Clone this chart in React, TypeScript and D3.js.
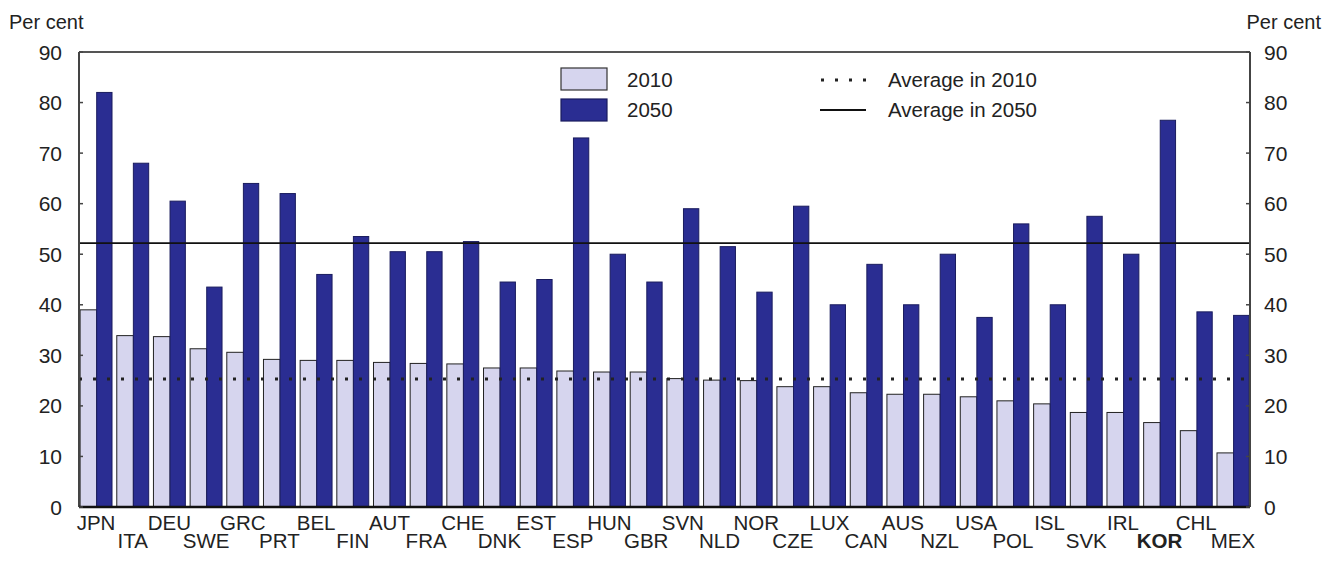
import React from "react";
import * as d3 from "d3";

const countries = ["JPN","ITA","DEU","SWE","GRC","PRT","BEL","FIN","AUT","FRA","CHE","DNK","EST","ESP","HUN","GBR","SVN","NLD","NOR","CZE","LUX","CAN","AUS","NZL","USA","POL","ISL","SVK","IRL","KOR","CHL","MEX"];
const values2010 = [39.0,33.9,33.7,31.3,30.6,29.2,29.0,29.0,28.6,28.4,28.3,27.5,27.5,26.9,26.7,26.7,25.4,25.1,25.0,23.8,23.8,22.6,22.3,22.3,21.8,21.0,20.4,18.7,18.7,16.7,15.1,10.7];
const values2050 = [82.0,68.0,60.5,43.5,64.0,62.0,46.0,53.5,50.5,50.5,52.5,44.5,45.0,73.0,50.0,44.5,59.0,51.5,42.5,59.5,40.0,48.0,40.0,50.0,37.5,56.0,40.0,57.5,50.0,76.5,38.6,37.9];
const avg2010 = 25.3;
const avg2050 = 52.2;
const yTicks = [0,10,20,30,40,50,60,70,80,90];

const W = 1330, H = 563;
const left = 79, right = 1250, top = 52, bottom = 507;
const FONT = "Arial, 'Liberation Sans', sans-serif";
const LIGHT = "#d6d5ee";
const DARK = "#2a2d92";
const FS = 20.5;

export default function App() {
  const x = d3.scaleBand<string>().domain(countries).range([left, right]).paddingInner(0.13).paddingOuter(0.03);
  const y = d3.scaleLinear().domain([0, 90]).range([bottom, top]);
  const bw = x.bandwidth();
  const w1 = bw * 0.52;
  const w2 = bw - w1;
  return (
    <svg width={W} height={H} style={{ position: "absolute", left: 0, top: 0, background: "#fff" }} fontFamily={FONT}>
      <rect x={0} y={0} width={W} height={H} fill="#fff" />
      {countries.map((c, i) => {
        const x0 = x(c)!;
        return (
          <g key={c}>
            <rect x={x0} y={y(values2010[i])} width={w1} height={y(0) - y(values2010[i])} fill={LIGHT} stroke="#222" strokeWidth={1} />
            <rect x={x0 + w1} y={y(values2050[i])} width={w2} height={y(0) - y(values2050[i])} fill={DARK} stroke="#1a1c5e" strokeWidth={1} />
          </g>
        );
      })}
      <line x1={left} x2={right} y1={y(avg2010)} y2={y(avg2010)} stroke="#222" strokeWidth={3} strokeDasharray="3 11" />
      <line x1={left} x2={right} y1={y(avg2050)} y2={y(avg2050)} stroke="#111" strokeWidth={1.8} />
      <line x1={left} x2={right} y1={top} y2={top} stroke="#555" strokeWidth={2} />
      <line x1={left} x2={left} y1={top} y2={bottom} stroke="#444" strokeWidth={2} />
      <line x1={right} x2={right} y1={top} y2={bottom} stroke="#444" strokeWidth={2} />
      <line x1={left} x2={right} y1={bottom} y2={bottom} stroke="#111" strokeWidth={2.5} />
      {yTicks.map((t) => (
        <g key={t}>
          <line x1={left} x2={left + 4} y1={y(t)} y2={y(t)} stroke="#444" strokeWidth={1.5} />
          <line x1={right - 4} x2={right} y1={y(t)} y2={y(t)} stroke="#444" strokeWidth={1.5} />
          <text x={62} y={y(t)} dy="0.36em" textAnchor="end" fontSize={21} fill="#222">{t}</text>
          <text x={1264} y={y(t)} dy="0.36em" textAnchor="start" fontSize={21} fill="#222">{t}</text>
        </g>
      ))}
      <text x={9} y={29} fontSize={20} fill="#222">Per cent</text>
      <text x={1321} y={29} fontSize={20} fill="#222" textAnchor="end">Per cent</text>
      {countries.map((c, i) => (
        <text key={c} x={x(c)! + bw / 2} y={i % 2 === 0 ? 530 : 548} textAnchor="middle" fontSize={FS} fill="#222" fontWeight={c === "KOR" ? "bold" : "normal"}>{c}</text>
      ))}
      <rect x={561} y={68} width={46} height={22} fill={LIGHT} stroke="#333" strokeWidth={1.2} />
      <rect x={561} y={99} width={46} height={22} fill={DARK} stroke="#1a1c5e" strokeWidth={1.2} />
      <text x={627} y={80} dy="0.36em" fontSize={FS} fill="#222">2010</text>
      <text x={627} y={110} dy="0.36em" fontSize={FS} fill="#222">2050</text>
      <line x1={821} x2={866} y1={80} y2={80} stroke="#222" strokeWidth={3} strokeDasharray="3 11" />
      <line x1={820} x2={866} y1={110} y2={110} stroke="#111" strokeWidth={1.8} />
      <text x={888} y={80} dy="0.36em" fontSize={FS} fill="#222">Average in 2010</text>
      <text x={888} y={110} dy="0.36em" fontSize={FS} fill="#222">Average in 2050</text>
    </svg>
  );
}
